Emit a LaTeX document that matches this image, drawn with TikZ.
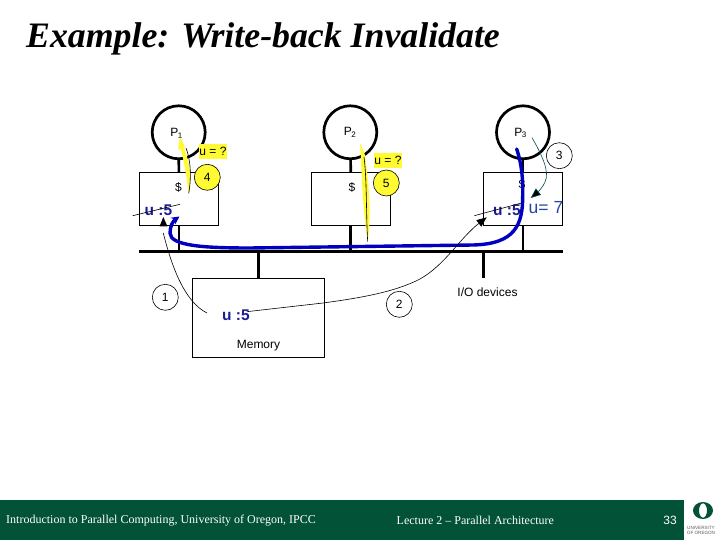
\documentclass[tikz,border=0pt]{standalone}
\usepackage{fontspec}
\setmainfont{Liberation Serif}
\setsansfont{Liberation Sans}
\usetikzlibrary{arrows.meta}
\definecolor{oregreen}{RGB}{2,82,56}
\definecolor{yel}{RGB}{255,250,50}
\definecolor{ublue}{RGB}{28,28,150}
\definecolor{ublue2}{RGB}{35,70,165}
\definecolor{flow}{RGB}{0,0,190}
\tikzset{
 x=1pt,y=-1pt,
 proc/.style={circle,draw=black,line width=2.7pt,minimum size=53pt,inner sep=0pt},
 boxn/.style={rectangle,draw=black,line width=.7pt,fill=white,inner sep=0pt},
 stem/.style={line width=2.7pt,draw=black},
 lab/.style={font=\sffamily\fontsize{12}{14}\selectfont,inner sep=0pt},
 vallab/.style={font=\sffamily\bfseries\fontsize{15.5}{18}\selectfont,text=ublue,inner sep=0pt},
 step4/.style={circle,draw=black,line width=.6pt,minimum size=26pt,inner sep=0pt,font=\sffamily\fontsize{12}{14}\selectfont},
 qlab/.style={font=\sffamily\fontsize{12}{14}\selectfont,fill=yel,inner sep=0pt,minimum width=27.5pt,minimum height=15pt},
 thin1/.style={line width=.6pt,draw=black},
 foot/.style={text=white,font=\fontsize{12}{14}\selectfont,inner sep=0pt},
}
\begin{document}
\begin{tikzpicture}
\useasboundingbox (0,0) rectangle (720,540);
\fill[white] (0,0) rectangle (720,540);
% title
\node[inner sep=0pt,anchor=west,font=\fontsize{35.8}{40}\selectfont\bfseries\itshape] (title) at (26,39) {Example: Write-back Invalidate};
% bus
\coordinate (busl) at (139,251.5);
\coordinate (busr) at (563,251.5);
\draw[stem] (busl) -- (busr);
% boxes
\node[boxn,minimum width=79.5pt,minimum height=53pt] (c1) at (179,198.8) {};
\node[boxn,minimum width=79.5pt,minimum height=53pt] (c2) at (351,198.8) {};
\node[boxn,minimum width=79pt,minimum height=53pt] (c3) at (523,198.8) {};
\node[boxn,minimum width=132pt,minimum height=79pt] (mem) at (258.3,317.7) {};
% processors
\node[proc] (p1) at (178.7,132.3) {};
\node[proc] (p2) at (350.3,132.3) {};
\node[proc] (p3) at (523,132.3) {};
\node[lab] (lp1) at (176.5,133) {P\textsubscript{\kern-.5pt 1}};
\node[lab] (lp2) at (350,132.5) {P\textsubscript{\kern-.5pt 2}};
\node[lab] (lp3) at (520.5,133) {P\textsubscript{\kern-.5pt 3}};
% stems
\coordinate (b1) at (179,251.5);
\coordinate (b2) at (350.5,251.5);
\coordinate (b3) at (523,251.5);
\coordinate (bm) at (258.3,251.5);
\coordinate (bio) at (483.7,251.5);
\coordinate (iot) at (483.7,278);
\draw[stem] (p1) -- (c1);
\draw[stem] (p2) -- (c2);
\draw[stem] (p3) -- (c3);
\draw[stem] (c1.south -| b1) -- (b1);
\draw[stem] (c2.south -| b2) -- (b2);
\draw[stem] (c3.south -| b3) -- (b3);
\draw[stem] (bm) -- (mem.north -| bm);
\draw[stem] (bio) -- (iot);
% labels
\node[lab] (d1) at (178.5,187) {\$};
\node[lab] (d2) at (352,187) {\$};
\node[lab] (d3) at (522,184) {\$};
\node[lab] (mtxt) at (258.5,346) {Memory};
\node[lab] (iotxt) at (487.5,292) {I/O devices};
\node[vallab] (u1) at (158.5,210.5) {u :5};
\node[vallab] (um) at (236,315.5) {u :5};
\node[vallab] (u3) at (507,210) {u :5};
\node[vallab,font=\sffamily\fontsize{17.5}{20}\selectfont,text=ublue2] (u7) at (546,208) {u= 7};
% yellow labels
\node[qlab] (q1) at (213,151.5) {u = ?};
\node[qlab] (q2) at (388,160.5) {u = ?};
% yellow flows
\coordinate (y1s) at (188.7,193.3);
\coordinate (y1t) at (180,137);
\fill[yel] (y1s) .. controls (193,175) and (187,155) .. (184,148) -- (185,147) -- (y1t) -- (178,149) -- (181,150) .. controls (185,165) and (187,180) .. (y1s);
\draw[thin1] (y1s) .. controls (192,175) and (190,158) .. (186,148);
\coordinate (y2s) at (367.7,241.7);
\coordinate (y2t) at (360,143);
\fill[yel] (y2s) .. controls (372,210) and (368,180) .. (365,155) -- (y2t) -- (361,159) .. controls (362,190) and (364,215) .. (y2s);
\draw[thin1] (y2s) .. controls (366,215) and (367,180) .. (364,157);
% blue flow
\coordinate (fs) at (516.7,149);
\coordinate (ft) at (179.5,216.5);
\draw[line width=3.4pt,flow,line cap=round,-{Stealth[length=8pt,width=8pt]}]
 (fs) .. controls (522,165) and (523,180) .. (522.7,195)
 .. controls (523,225) and (515,244) .. (473,245)
 -- (250,248)
 .. controls (205,248) and (170,246) .. (170,233)
 .. controls (170,226) and (173,221) .. (ft);
% strike lines
\coordinate (s1a) at (132.7,215.7);
\coordinate (s1b) at (180,204.3);
\coordinate (s3a) at (474.3,215.7);
\coordinate (s3b) at (521.7,203);
\draw[thin1] (s1a) -- (s1b);
\draw[thin1] (s3a) -- (s3b);
% step circles
\node[step4,fill=yel] (n4) at (207.3,177.3) {4};
\node[step4,fill=yel] (n5) at (386.3,183) {5};
\node[step4] (n3) at (559.3,155.7) {3};
\node[step4] (n1) at (165.3,297.3) {1};
\node[step4] (n2) at (399.3,304.3) {2};
% thin arrows
\coordinate (a1s) at (207,313);
\coordinate (a1t) at (163.3,217);
\coordinate (a1e) at (163.3,233);
\draw[thin1] (a1s) .. controls (185,302) and (172,268) .. (a1e);
\fill (a1t) -- (159.5,226.5) -- (167.5,226.5) -- cycle;
\coordinate (a2s) at (246.7,311.7);
\coordinate (a2t) at (486.7,217.3);
\draw[thin1,-{Triangle[length=10pt,width=8pt]}] (a2s) -- (323,303) .. controls (360,298) and (395,292) .. (420,279) .. controls (445,265) and (460,238) .. (a2t);
\coordinate (a3s) at (532,137.7);
\coordinate (a3t) at (530.7,198);
\draw[line width=.6pt,draw=teal!60!black,-{Triangle[length=10pt,width=8pt,fill=black]}] (a3s) .. controls (542,155) and (550,172) .. (545,182) .. controls (543,187) and (538,192) .. (a3t);
% footer
\fill[oregreen] (0,500) rectangle (683.5,540);
\node[foot,anchor=west] (ft1) at (6,520.5) {Introduction to Parallel Computing, University of Oregon, IPCC};
\node[foot,anchor=west] (ft2) at (396.5,520.5) {Lecture 2 – Parallel Architecture};
\node[text=white,font=\sffamily\fontsize{12}{14}\selectfont,inner sep=0pt] (pg) at (670,520.5) {33};
% logo
\fill[oregreen,even odd rule] (703,510.5) ellipse (10pt and 8.5pt) (703,510.5) ellipse (4pt and 7.2pt);
\node[font=\sffamily\fontsize{4.6}{5.6}\selectfont,text=black!65,align=center,inner sep=0pt] (uo) at (701,530.5) {UNIVERSITY\\OF OREGON};
\end{tikzpicture}
\end{document}
